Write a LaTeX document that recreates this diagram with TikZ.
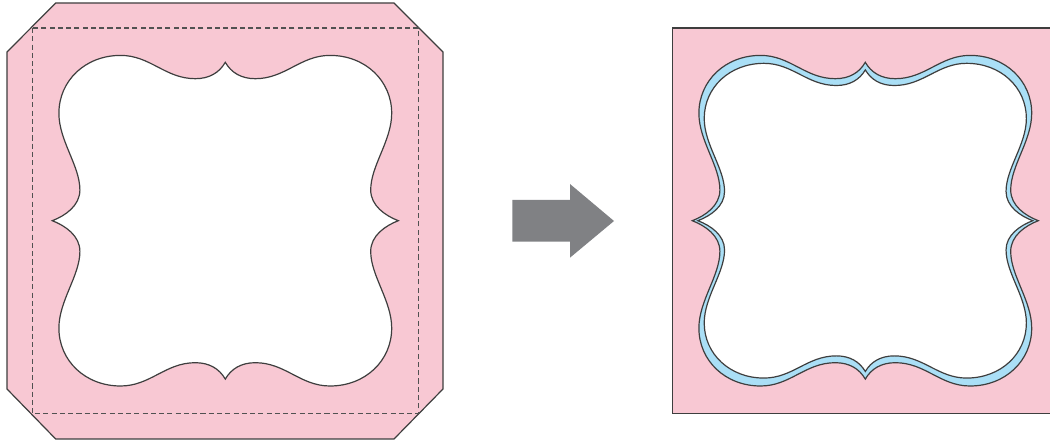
\documentclass[tikz,border=0pt]{standalone}

\definecolor{cardpink}{RGB}{248,200,211}
\definecolor{bandblue}{RGB}{170,223,246}
\definecolor{linegray}{RGB}{62,62,62}
\definecolor{arrowgray}{RGB}{128,129,132}

\tikzset{every picture/.style={line width=0.75pt}}
\tikzset{
  outline/.style={draw=linegray, line width=0.9pt},
  foldline/.style={draw=linegray!90!white, line width=0.9pt, dash pattern=on 3.8pt off 2.4pt},
}

% bracket frame outline, centred on (0,0), y pointing down
\newcommand{\framecurve}{(0,-158.4) .. controls (6,-148) and (16,-142) .. (30,-142)
  .. controls (60,-142) and (75,-165.3) .. (104.7,-165.3)
  .. controls (140,-165.3) and (166.4,-140) .. (166.4,-107.4)
  .. controls (166.4,-80) and (145.4,-55) .. (145.4,-30.7)
  .. controls (145.4,-15) and (160,-5) .. (173,0)
  .. controls (160,5) and (145.4,15) .. (145.4,30.7)
  .. controls (145.4,55) and (166.4,80) .. (166.4,107.4)
  .. controls (166.4,140) and (140,165.3) .. (104.7,165.3)
  .. controls (75,165.3) and (60,142) .. (30,142)
  .. controls (16,142) and (6,148) .. (0,158.4)
  .. controls (-6,148) and (-16,142) .. (-30,142)
  .. controls (-60,142) and (-75,165.3) .. (-104.7,165.3)
  .. controls (-140,165.3) and (-166.4,140) .. (-166.4,107.4)
  .. controls (-166.4,80) and (-145.4,55) .. (-145.4,30.7)
  .. controls (-145.4,15) and (-160,5) .. (-173,0)
  .. controls (-160,-5) and (-145.4,-15) .. (-145.4,-30.7)
  .. controls (-145.4,-55) and (-166.4,-80) .. (-166.4,-107.4)
  .. controls (-166.4,-140) and (-140,-165.3) .. (-104.7,-165.3)
  .. controls (-75,-165.3) and (-60,-142) .. (-30,-142)
  .. controls (-16,-142) and (-6,-148) .. (0,-158.4) -- cycle}

\begin{document}
\begin{tikzpicture}[x=0.75pt,y=0.75pt,yscale=-1,xscale=1]
    \useasboundingbox (0,0) rectangle (1050,441);

    %Octagon card (left)
    \draw [outline, fill=cardpink] (55.7,3) -- (394,3) -- (443,52) -- (443,389) -- (394,439) -- (55.7,439) -- (7,389) -- (7,52) -- cycle ;
    %Fold lines
    \draw [foldline] (32.3,28) rectangle (418.3,413.7) ;
    %Cut-out window
    \begin{scope}[shift={(225.3,220.7)}]
        \draw [outline, fill=white] \framecurve ;
    \end{scope}

    %Block arrow
    \fill [arrowgray] (512.3,200) -- (570,200) -- (570,184) -- (614,221) -- (570,257.7) -- (570,241.7) -- (512.3,241.7) -- cycle ;

    %Folded card (right)
    \fill [cardpink] (672.3,28) rectangle (1050,413.7) ;
    \draw [outline] (1050,28) -- (672.3,28) -- (672.3,413.7) -- (1050,413.7) ;
    %Blue band
    \begin{scope}[shift={(865.3,220.7)}]
        \draw [outline, fill=bandblue] \framecurve ;
    \end{scope}
    %Inner window
    \begin{scope}[shift={(865.3,220.7)}, xscale=0.968, yscale=0.952]
        \draw [outline, fill=white] \framecurve ;
    \end{scope}

\end{tikzpicture}
\end{document}
